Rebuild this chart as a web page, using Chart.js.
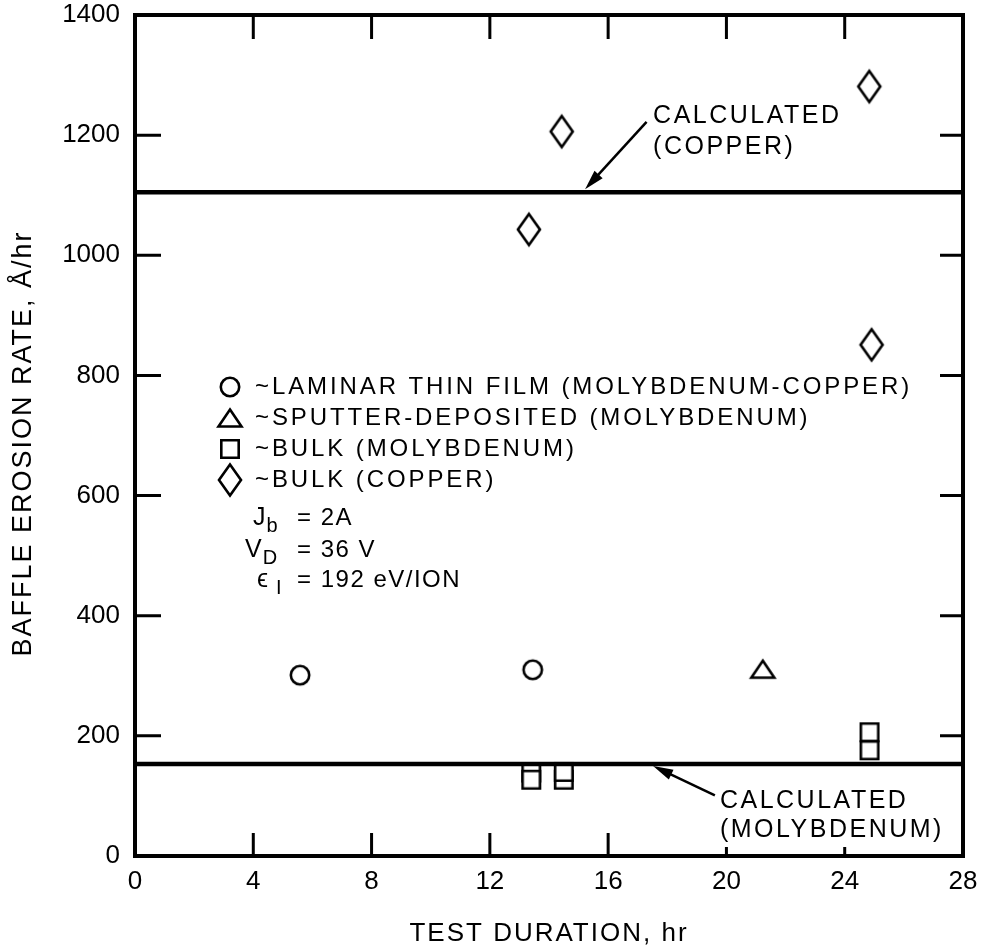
<!DOCTYPE html>
<html>
<head>
<meta charset="utf-8">
<script src="https://cdn.jsdelivr.net/npm/chart.js@4.4.1/dist/chart.umd.min.js"></script>
<style>
  html, body { margin: 0; padding: 0; background: #fff; }
  #c { display: block; }
</style>
</head>
<body>
<canvas id="c" width="981" height="952"></canvas>
<script>
// Baffle erosion rate vs test duration.

// ─── data ──────────────────────────────────────────────────────────────
const xTicks = [0, 4, 8, 12, 16, 20, 24, 28];
const yTicks = [0, 200, 400, 600, 800, 1000, 1200, 1400];

const laminarX = [5.58, 13.45];
const laminarY = [301, 310];
const sputterX = [21.23];
const sputterY = [311];
const bulkMoX = [13.4, 13.4, 14.5, 14.5, 24.84, 24.84];
const bulkMoY = [139, 127, 127, 140, 206, 176];
const bulkCuX = [13.32, 14.43, 24.83, 24.91];
const bulkCuY = [1043, 1206, 1281, 851];

const calcX = [0, 28];
const calcCuY = [1105, 1105];
const calcMoY = [153, 153];

const legendLabels = [
  '~LAMINAR THIN FILM (MOLYBDENUM-COPPER)',
  '~SPUTTER-DEPOSITED (MOLYBDENUM)',
  '~BULK (MOLYBDENUM)',
  '~BULK (COPPER)',
];
const paramRows = [
  { main: 'J', sub: 'b', rest: '= 2A' },
  { main: 'V', sub: 'D', rest: '= 36 V' },
  { main: 'ϵ', sub: 'I', rest: '= 192 eV/ION' },
];

const FONT = "'Liberation Sans', Arial, Helvetica, sans-serif";

const pts = (xs, ys) => xs.map((x, i) => ({ x, y: ys[i] }));

// ─── marker glyphs ─────────────────────────────────────────────────────
function marker(w, h, path) {
  const c = document.createElement('canvas');
  c.width = w; c.height = h;
  const g = c.getContext('2d');
  g.strokeStyle = '#000';
  g.fillStyle = '#fff';
  g.lineWidth = 2.6;
  g.beginPath();
  path(g);
  g.closePath();
  g.fill();
  g.stroke();
  return c;
}
const circleImg = marker(24, 24, g => g.arc(12, 12, 9.2, 0, Math.PI * 2));
const triImg = marker(30, 26, g => { g.moveTo(15, 4.5); g.lineTo(26.5, 21.5); g.lineTo(3.5, 21.5); });
const squareImg = marker(22, 22, g => g.rect(2.3, 2.3, 17.4, 17.4));
const diamondImg = marker(28, 40, g => { g.moveTo(14, 4.5); g.lineTo(25, 20); g.lineTo(14, 35.5); g.lineTo(3, 20); });
const legendImgs = [circleImg, triImg, squareImg, diamondImg];

// ─── decorations: frame, inward ticks, titles, legend, call-outs ───────
function arrow(ctx, x1, y1, x2, y2) {
  const a = Math.atan2(y2 - y1, x2 - x1);
  const hl = 20, hw = 5.5;
  ctx.beginPath();
  ctx.moveTo(x1, y1);
  ctx.lineTo(x2 - Math.cos(a) * hl * 0.8, y2 - Math.sin(a) * hl * 0.8);
  ctx.stroke();
  ctx.beginPath();
  ctx.moveTo(x2, y2);
  ctx.lineTo(x2 - Math.cos(a) * hl - Math.sin(a) * hw, y2 - Math.sin(a) * hl + Math.cos(a) * hw);
  ctx.lineTo(x2 - Math.cos(a) * hl + Math.sin(a) * hw, y2 - Math.sin(a) * hl - Math.cos(a) * hw);
  ctx.closePath();
  ctx.fill();
}

const decor = {
  id: 'decor',
  afterDraw(chart) {
    const { ctx, chartArea: ca, scales: { x, y } } = chart;
    ctx.save();
    ctx.strokeStyle = '#000';
    ctx.fillStyle = '#000';

    // frame
    ctx.lineWidth = 4;
    ctx.strokeRect(ca.left, ca.top, ca.right - ca.left, ca.bottom - ca.top);

    // inward ticks
    ctx.lineWidth = 3;
    ctx.beginPath();
    xTicks.slice(1, -1).forEach(v => {
      const px = x.getPixelForValue(v);
      ctx.moveTo(px, ca.bottom); ctx.lineTo(px, ca.bottom - (v <= 16 ? 23 : 9));
      ctx.moveTo(px, ca.top); ctx.lineTo(px, ca.top + 24);
    });
    yTicks.slice(1, -1).forEach(v => {
      const py = y.getPixelForValue(v);
      ctx.moveTo(ca.left, py); ctx.lineTo(ca.left + 26, py);
      ctx.moveTo(ca.right, py); ctx.lineTo(ca.right - 23, py);
    });
    ctx.stroke();

    // axis titles
    ctx.textAlign = 'center';
    ctx.textBaseline = 'middle';
    ctx.letterSpacing = '2px';
    ctx.font = '26px ' + FONT;
    ctx.fillText('TEST DURATION, hr', (ca.left + ca.right) / 2, 934);
    ctx.save();
    ctx.translate(24, (ca.top + ca.bottom) / 2 + 8);
    ctx.rotate(-Math.PI / 2);
    ctx.font = '27px ' + FONT;
    ctx.fillText('BAFFLE EROSION RATE, Å/hr', 0, 0);
    ctx.restore();

    // legend
    ctx.textAlign = 'left';
    ctx.letterSpacing = '2.9px';
    ctx.font = '24px ' + FONT;
    const rowY = [387, 418, 449, 480];
    legendLabels.forEach((t, i) => {
      const img = legendImgs[i];
      ctx.drawImage(img, 230 - img.width / 2, rowY[i] - img.height / 2);
      ctx.fillText(t, 255, rowY[i]);
    });
    const pY = [516, 548, 578];
    const pX = [253, 245, 257];
    ctx.textBaseline = 'alphabetic';
    paramRows.forEach((r, i) => {
      const base = pY[i] + 9;
      ctx.letterSpacing = '0px';
      ctx.font = '25px ' + FONT;
      ctx.fillText(r.main, pX[i], base);
      const w = ctx.measureText(r.main).width;
      ctx.font = '20px ' + FONT;
      ctx.fillText(r.sub, pX[i] + w + (i === 2 ? 8 : 1), base + 7);
      ctx.letterSpacing = '1.5px';
      ctx.font = '24px ' + FONT;
      ctx.fillText(r.rest, 297, base);
    });

    // call-outs
    ctx.lineWidth = 2.5;
    arrow(ctx, x.getPixelForValue(17.3), y.getPixelForValue(1222),
      x.getPixelForValue(15.22), y.getPixelForValue(calcCuY[0]) - 3);
    arrow(ctx, x.getPixelForValue(19.61), y.getPixelForValue(101),
      x.getPixelForValue(17.52), y.getPixelForValue(calcMoY[0]) + 2);
    ctx.letterSpacing = '2.5px';
    ctx.font = '25px ' + FONT;
    const cuX = x.getPixelForValue(17.52), cuY = y.getPixelForValue(1220);
    ctx.fillText('CALCULATED', cuX, cuY);
    ctx.fillText('(COPPER)', cuX, cuY + 31);
    const moX = x.getPixelForValue(19.78), moY = y.getPixelForValue(80);
    ctx.fillText('CALCULATED', moX, moY);
    ctx.fillText('(MOLYBDENUM)', moX, moY + 29);
    ctx.restore();
  }
};

// ─── chart ─────────────────────────────────────────────────────────────
const tickFont = { family: FONT, size: 26 };

// fixed axis boxes; label overflow must not shrink the plot area
function fixBox(s, key, size) {
  s[key] = size;
  s.paddingTop = s.paddingBottom = s.paddingLeft = s.paddingRight = 0;
}

new Chart(document.getElementById('c'), {
  type: 'scatter',
  data: {
    datasets: [
      { label: 'Calculated (copper)', data: pts(calcX, calcCuY), showLine: true,
        borderColor: '#000', borderWidth: 4.5, pointRadius: 0 },
      { label: 'Calculated (molybdenum)', data: pts(calcX, calcMoY), showLine: true,
        borderColor: '#000', borderWidth: 4.5, pointRadius: 0 },
      { label: legendLabels[0], data: pts(laminarX, laminarY), pointStyle: circleImg, pointRadius: 10 },
      { label: legendLabels[1], data: pts(sputterX, sputterY), pointStyle: triImg, pointRadius: 10 },
      { label: legendLabels[2], data: pts(bulkMoX, bulkMoY), pointStyle: squareImg, pointRadius: 10 },
      { label: legendLabels[3], data: pts(bulkCuX, bulkCuY), pointStyle: diamondImg, pointRadius: 10 },
    ]
  },
  options: {
    responsive: false,
    animation: false,
    events: [],
    layout: { padding: { top: 15, right: 18, left: 0, bottom: 0 } },
    plugins: { legend: { display: false }, tooltip: { enabled: false } },
    scales: {
      x: {
        type: 'linear', min: 0, max: 28,
        afterBuildTicks: s => { s.ticks = xTicks.map(v => ({ value: v })); },
        afterFit: s => fixBox(s, 'height', 96),
        grid: { display: false, drawTicks: false },
        border: { display: false },
        ticks: { font: tickFont, color: '#000', padding: 10, maxRotation: 0, callback: v => String(v) }
      },
      y: {
        type: 'linear', min: 0, max: 1400,
        afterBuildTicks: s => { s.ticks = yTicks.map(v => ({ value: v })); },
        afterFit: s => fixBox(s, 'width', 135),
        grid: { display: false, drawTicks: false },
        border: { display: false },
        ticks: { font: tickFont, color: '#000', padding: 15, callback: v => String(v) }
      }
    }
  },
  plugins: [decor]
});
</script>
</body>
</html>
